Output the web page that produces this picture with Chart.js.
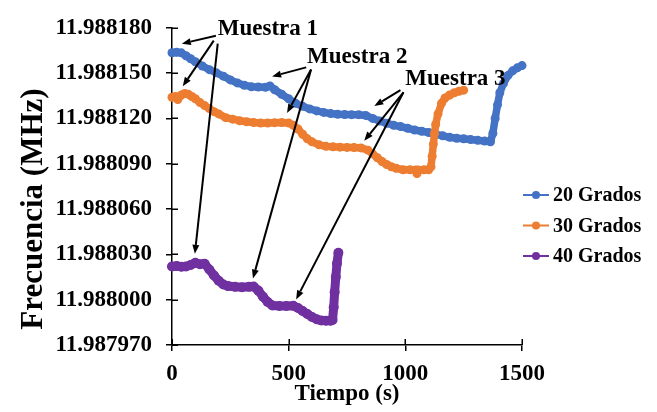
<!DOCTYPE html>
<html>
<head>
<meta charset="utf-8">
<script src="https://cdn.jsdelivr.net/npm/chart.js@4"></script>
<style>
    html, body { margin: 0; padding: 0; background: #fff; }
    #wrap { width: 657px; height: 412px; }
</style>
</head>
<body>
<div id="wrap"><canvas id="chart"></canvas></div>
<script>
const FONT = "'Liberation Serif', 'Times New Roman', serif";

// Series
const seriesLabels = ['20 Grados', '30 Grados', '40 Grados'];
const seriesColors = ['#4472C4', '#ED7D31', '#7030A0'];

// Axis ticks
const xTicks = [0, 500, 1000, 1500];
const yTicks = [11.98797, 11.988, 11.98803, 11.98806, 11.98809, 11.98812, 11.98815, 11.98818];

// 20 Grados
const time20 = [0, 20, 40, 60, 80, 100, 130, 160, 190, 220, 250, 280, 310, 340, 370, 400,
    420, 440, 470, 500, 530, 560, 590, 620, 650, 680, 710, 740, 770, 800, 830, 860, 890, 920,
    950, 980, 1010, 1040, 1070, 1100, 1130, 1160, 1190, 1220, 1250, 1280, 1310, 1340, 1365,
    1375, 1385, 1395, 1405, 1420, 1440, 1460, 1480, 1500];
const freq20 = [11.9881635, 11.9881638, 11.9881634, 11.9881615, 11.9881595, 11.9881575,
    11.9881547, 11.9881523, 11.9881502, 11.988148, 11.9881455, 11.9881435, 11.988142,
    11.988141, 11.9881408, 11.9881406, 11.9881415, 11.988139, 11.988136, 11.988133,
    11.98813, 11.988128, 11.9881263, 11.988125, 11.988124, 11.9881232, 11.9881228,
    11.9881226, 11.9881225, 11.9881225, 11.988122, 11.98812, 11.9881183, 11.9881168,
    11.9881155, 11.9881146, 11.9881135, 11.9881123, 11.9881115, 11.9881107, 11.9881095,
    11.9881085, 11.9881075, 11.9881068, 11.9881065, 11.988106, 11.9881055, 11.988105,
    11.9881045, 11.98811, 11.98812, 11.988129, 11.988137, 11.988143, 11.9881485,
    11.9881515, 11.9881535, 11.988155];

// 30 Grados
const time30 = [0, 15, 25, 40, 55, 70, 85, 100, 120, 140, 160, 180, 200, 230, 260, 290, 320,
    350, 380, 410, 440, 470, 500, 520, 540, 560, 580, 600, 630, 660, 690, 720, 750, 780, 810,
    840, 860, 880, 900, 920, 940, 960, 990, 1020, 1045, 1050, 1055, 1080, 1100, 1110, 1115,
    1120, 1125, 1130, 1140, 1155, 1170, 1190, 1210, 1230, 1250];
const freq30 = [11.988134, 11.9881345, 11.9881325, 11.9881355, 11.9881365, 11.988136,
    11.9881345, 11.988133, 11.9881305, 11.9881285, 11.9881265, 11.9881245, 11.988123,
    11.9881205, 11.9881195, 11.9881185, 11.9881178, 11.9881173, 11.988117, 11.988117,
    11.9881172, 11.9881173, 11.988117, 11.9881155, 11.988113, 11.9881095, 11.9881065,
    11.9881045, 11.9881025, 11.9881015, 11.9881012, 11.988101, 11.9881008, 11.9881007,
    11.9881005, 11.988099, 11.9880965, 11.988094, 11.9880915, 11.9880895, 11.988088,
    11.988087, 11.988086, 11.988086, 11.9880859, 11.9880835, 11.9880859, 11.988086,
    11.988086, 11.988088, 11.988095, 11.988103, 11.98811, 11.988116, 11.988123, 11.98813,
    11.9881335, 11.9881355, 11.988137, 11.988138, 11.9881387];

// 40 Grados
const time40 = [0, 20, 40, 60, 80, 100, 120, 140, 160, 180, 200, 220, 240, 270, 300, 330,
    350, 370, 390, 410, 430, 460, 490, 520, 540, 560, 580, 600, 620, 640, 660, 680, 688,
    693, 697, 702, 707, 713];
const freq40 = [11.988022, 11.9880223, 11.9880218, 11.988022, 11.988023, 11.9880245,
    11.9880235, 11.9880238, 11.98802, 11.988016, 11.9880125, 11.98801, 11.988009,
    11.9880085, 11.9880083, 11.9880085, 11.9880087, 11.988006, 11.988002, 11.9879985,
    11.9879962, 11.9879958, 11.9879958, 11.987996, 11.9879945, 11.9879925, 11.9879905,
    11.9879885, 11.987987, 11.9879862, 11.987986, 11.987986, 11.9879865, 11.987995,
    11.988005, 11.988015, 11.988024, 11.988031];

// Annotation labels and their arrows (in data units: seconds, MHz)
const noteLabels = ['Muestra 1', 'Muestra 2', 'Muestra 3'];
const notePos = [[196, 11.9881752], [579, 11.9881566], [1000, 11.9881424]];
const noteArrows = [
    [[188, 11.9881748, 42, 11.9881695], [179, 11.9881715, 46, 11.9881413], [196, 11.9881695, 98, 11.9880304]],
    [[575, 11.9881538, 429, 11.9881478], [596, 11.9881524, 493, 11.9881236], [596, 11.9881524, 347, 11.988014]],
    [[979, 11.9881387, 867, 11.9881282], [992, 11.9881373, 824, 11.9881052], [992, 11.9881373, 532, 11.9880002]],
];

const pairs = (xs, ys) => xs.map((x, i) => ({ x: x, y: ys[i] }));

function drawArrow(ctx, x1, y1, x2, y2) {
    const a = Math.atan2(y2 - y1, x2 - x1);
    const len = 9, half = 3.5;
    const bx = x2 - len * Math.cos(a), by = y2 - len * Math.sin(a);
    ctx.beginPath();
    ctx.moveTo(x1, y1);
    ctx.lineTo(bx, by);
    ctx.stroke();
    ctx.beginPath();
    ctx.moveTo(x2, y2);
    ctx.lineTo(bx + half * Math.sin(a), by - half * Math.cos(a));
    ctx.lineTo(bx - half * Math.sin(a), by + half * Math.cos(a));
    ctx.closePath();
    ctx.fill();
}

// Inner tick marks, arrows, legend and axis titles
const extras = {
    id: 'extras',
    afterDraw(chart) {
        const { ctx, chartArea } = chart;
        const xs = chart.scales.x, ys = chart.scales.y;
        ctx.save();
        ctx.strokeStyle = '#000';
        ctx.fillStyle = '#000';
        ctx.lineWidth = 1.5;
        yTicks.forEach(v => {
            const py = Math.round(ys.getPixelForValue(v)) + 0.25;
            ctx.beginPath();
            ctx.moveTo(chartArea.left, py);
            ctx.lineTo(chartArea.left + 6, py);
            ctx.stroke();
        });
        xTicks.forEach(v => {
            const px = Math.round(xs.getPixelForValue(v)) + 0.25;
            ctx.beginPath();
            ctx.moveTo(px, chartArea.bottom);
            ctx.lineTo(px, chartArea.bottom - 6);
            ctx.stroke();
        });

        // annotations
        ctx.lineWidth = 2;
        ctx.font = 'bold 23px ' + FONT;
        ctx.textAlign = 'left';
        ctx.textBaseline = 'alphabetic';
        noteLabels.forEach((label, i) => {
            ctx.fillText(label, xs.getPixelForValue(notePos[i][0]), ys.getPixelForValue(notePos[i][1]));
            noteArrows[i].forEach(a => {
                drawArrow(ctx, xs.getPixelForValue(a[0]), ys.getPixelForValue(a[1]),
                    xs.getPixelForValue(a[2]), ys.getPixelForValue(a[3]));
            });
        });

        // legend
        ctx.font = 'bold 20px ' + FONT;
        ctx.textBaseline = 'middle';
        chart.data.datasets.forEach((ds, i) => {
            const py = 195 + i * 30.5;
            ctx.strokeStyle = ds.borderColor;
            ctx.fillStyle = ds.borderColor;
            ctx.lineWidth = 2;
            ctx.beginPath();
            ctx.moveTo(523, py);
            ctx.lineTo(549, py);
            ctx.stroke();
            ctx.beginPath();
            ctx.arc(536, py, 4, 0, Math.PI * 2);
            ctx.fill();
            ctx.fillStyle = '#000';
            ctx.fillText(ds.label, 553, py + 1);
        });

        // axis titles
        ctx.fillStyle = '#000';
        ctx.textAlign = 'center';
        ctx.textBaseline = 'alphabetic';
        ctx.font = 'bold 23px ' + FONT;
        ctx.fillText('Tiempo (s)', (chartArea.left + chartArea.right) / 2, 400);
        ctx.translate(41.5, 209);
        ctx.rotate(-Math.PI / 2);
        ctx.font = 'bold 31px ' + FONT;
        ctx.fillText('Frecuencia (MHz)', 0, 0);
        ctx.restore();
    }
};

const seriesData = [pairs(time20, freq20), pairs(time30, freq30), pairs(time40, freq40)];
const pointSizes = [4.5, 4.5, 5];
const lineSizes = [7.5, 7.5, 9];

new Chart(document.getElementById('chart'), {
    type: 'line',
    data: {
        datasets: seriesLabels.map((label, i) => ({
            label: label,
            data: seriesData[i],
            borderColor: seriesColors[i],
            backgroundColor: seriesColors[i],
            pointBackgroundColor: seriesColors[i],
            pointBorderWidth: 0,
            pointRadius: pointSizes[i],
            borderWidth: lineSizes[i],
            borderJoinStyle: 'round',
            borderCapStyle: 'round',
            tension: 0,
            order: 3 - i,
            clip: 8,
        })),
    },
    options: {
        responsive: true,
        maintainAspectRatio: false,
        animation: false,
        layout: { padding: { top: 25, right: 135, left: 0, bottom: 0 } },
        plugins: {
            legend: { display: false },
            tooltip: { enabled: false },
        },
        scales: {
            x: {
                type: 'linear',
                min: 0,
                max: 1500,
                afterFit: (scale) => { scale.height = 67; },
                afterBuildTicks: (scale) => { scale.ticks = xTicks.map(v => ({ value: v })); },
                grid: { drawOnChartArea: false, color: '#000', tickColor: '#000', lineWidth: 1.5, tickLength: 6 },
                border: { display: true, color: '#000', width: 1.5 },
                ticks: {
                    color: '#000',
                    padding: 9,
                    maxRotation: 0,
                    font: { family: FONT, size: 23, weight: 'bold' },
                    callback: (value) => String(value),
                },
            },
            y: {
                type: 'linear',
                min: 11.98797,
                max: 11.98818,
                afterFit: (scale) => { scale.width = 172; },
                afterBuildTicks: (scale) => { scale.ticks = yTicks.map(v => ({ value: v })); },
                grid: { drawOnChartArea: false, color: '#000', tickColor: '#000', lineWidth: 1.5, tickLength: 6 },
                border: { display: true, color: '#000', width: 1.5 },
                ticks: {
                    color: '#000',
                    padding: 14,
                    font: { family: FONT, size: 23, weight: 'bold' },
                    callback: (value) => Number(value).toFixed(6),
                },
            },
        },
    },
    plugins: [extras],
});
</script>
</body>
</html>
